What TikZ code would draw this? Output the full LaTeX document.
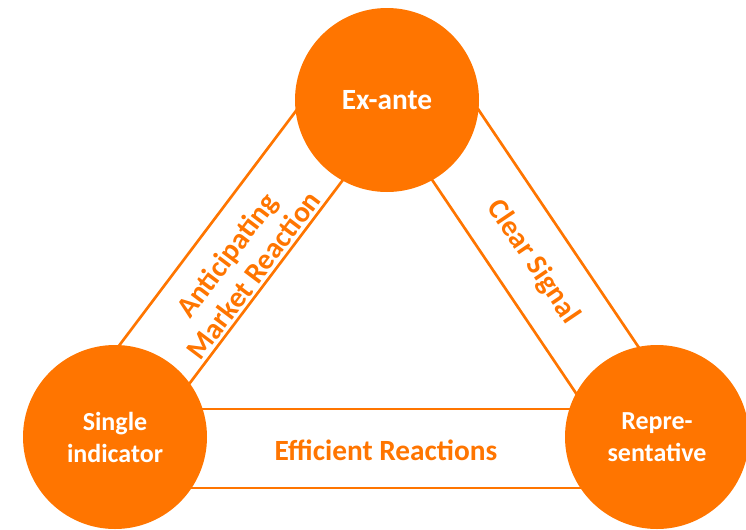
\documentclass[tikz,border=0pt]{standalone}
\usepackage{fontspec}
\setmainfont{Carlito}
\definecolor{ora}{RGB}{255,117,0}
\begin{document}
\begin{tikzpicture}[x=0.75pt,y=-0.75pt,
  hub/.style={circle,fill=ora,inner sep=0pt,minimum size=138pt,text=white,
    font=\fontsize{19.5}{24}\selectfont\bfseries,align=center},
  bandline/.style={draw=ora,line width=2pt},
  bandtext/.style={text=ora,font=\fontsize{22}{25}\selectfont\bfseries,align=center}]
\useasboundingbox (0,0) rectangle (746,529);
% band end points
\coordinate (lo1) at (73.5,406.1);  \coordinate (lo2) at (334.2,60.2);
\coordinate (li1) at (136.6,453.7); \coordinate (li2) at (397.3,107.8);
\coordinate (ro1) at (445.2,60.4);  \coordinate (ro2) at (685.9,417.3);
\coordinate (ri1) at (380.8,103.8); \coordinate (ri2) at (621.5,460.7);
\coordinate (bt1) at (115,409);     \coordinate (bt2) at (657,409);
\coordinate (bb1) at (115,488);     \coordinate (bb2) at (657,488);
\draw[bandline] (lo1) -- (lo2);
\draw[bandline] (li1) -- (li2);
\draw[bandline] (ro1) -- (ro2);
\draw[bandline] (ri1) -- (ri2);
\draw[bandline] (bt1) -- (bt2);
\draw[bandline] (bb1) -- (bb2);
% band labels
\node[bandtext,rotate=53] (tl) at (240,265) {Anticipating\\Market Reaction};
\node[bandtext,rotate=-56] (tr) at (533,262) {Clear Signal};
\node[bandtext] (tb) at (386,450) {Efficient Reactions};
% hubs
\node[hub,font=\fontsize{22}{26}\selectfont\bfseries] (top) at (387,100) {Ex-ante};
\node[hub] (left) at (115,437) {Single\\indicator};
\node[hub] (right) at (657,437) {Repre-\\sentative};
\end{tikzpicture}
\end{document}
